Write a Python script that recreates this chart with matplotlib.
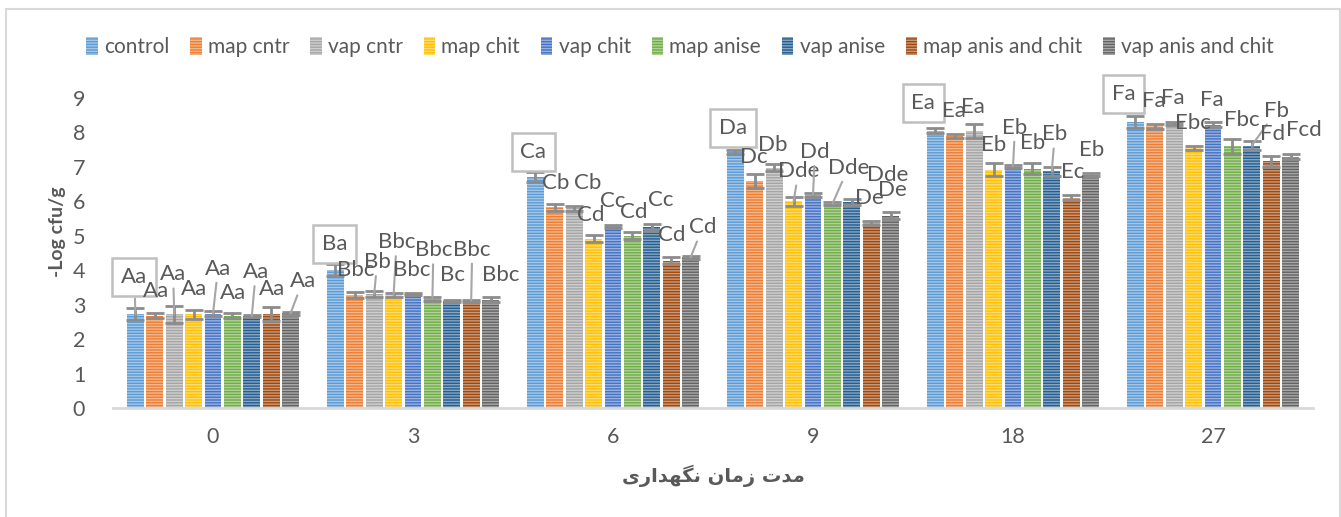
import matplotlib
matplotlib.use("Agg")
import matplotlib.pyplot as plt
import matplotlib.colors as mcolors
from matplotlib.patches import Rectangle
import numpy as np

plt.rcParams['font.family'] = ['Lato', 'DejaVu Sans']
plt.rcParams['hatch.linewidth'] = 1.0

days = ["0", "3", "6", "9", "18", "27"]
series = ["control", "map cntr", "vap cntr", "map chit", "vap chit",
          "map anise", "vap anise", "map anis and chit", "vap anis and chit"]
colors = ["#5B9BD5", "#ED7D31", "#A5A5A5", "#FFC000", "#4472C4",
          "#70AD47", "#255E91", "#9E480E", "#636363"]

# values per series across days (0,3,6,9,18,27)
control      = [2.72, 4.01, 6.71, 7.43, 8.05, 8.30]
map_cntr     = [2.68, 3.28, 5.83, 6.60, 7.89, 8.18]
vap_cntr     = [2.72, 3.31, 5.80, 6.97, 8.05, 8.27]
map_chit     = [2.72, 3.28, 4.91, 6.00, 6.92, 7.55]
vap_chit     = [2.74, 3.30, 5.27, 6.19, 7.01, 8.23]
map_anise    = [2.68, 3.16, 5.00, 5.93, 6.95, 7.60]
vap_anise    = [2.67, 3.12, 5.25, 5.98, 6.87, 7.62]
map_anis_chit = [2.72, 3.12, 4.28, 5.37, 6.11, 7.16]
vap_anis_chit = [2.75, 3.14, 4.37, 5.58, 6.77, 7.29]
values = [control, map_cntr, vap_cntr, map_chit, vap_chit,
          map_anise, vap_anise, map_anis_chit, vap_anis_chit]

err_control      = [0.17, 0.17, 0.15, 0.06, 0.07, 0.17]
err_map_cntr     = [0.07, 0.10, 0.10, 0.20, 0.06, 0.07]
err_vap_cntr     = [0.24, 0.08, 0.07, 0.10, 0.20, 0.04]
err_map_chit     = [0.13, 0.06, 0.10, 0.13, 0.18, 0.07]
err_vap_chit     = [0.07, 0.03, 0.05, 0.05, 0.05, 0.07]
err_map_anise    = [0.07, 0.06, 0.10, 0.05, 0.15, 0.22]
err_vap_anise    = [0.04, 0.03, 0.10, 0.10, 0.12, 0.12]
err_map_anis_chit = [0.20, 0.03, 0.10, 0.05, 0.08, 0.16]
err_vap_anis_chit = [0.05, 0.07, 0.05, 0.10, 0.04, 0.07]
errors = [err_control, err_map_cntr, err_vap_cntr, err_map_chit, err_vap_chit,
          err_map_anise, err_vap_anise, err_map_anis_chit, err_vap_anis_chit]

# significance letters per day (in series order)
labels_d0  = ["Aa", "Aa", "Aa", "Aa", "Aa", "Aa", "Aa", "Aa", "Aa"]
labels_d3  = ["Ba", "Bbc", "Bb", "Bbc", "Bbc", "Bbc", "Bc", "Bbc", "Bbc"]
labels_d6  = ["Ca", "Cb", "Cb", "Cd", "Cc", "Cd", "Cc", "Cd", "Cd"]
labels_d9  = ["Da", "Dc", "Db", "Dde", "Dd", "Dde", "De", "Dde", "De"]
labels_d18 = ["Ea", "Ea", "Ea", "Eb", "Eb", "Eb", "Eb", "Ec", "Eb"]
labels_d27 = ["Fa", "Fa", "Fa", "Ebc", "Fa", "Fbc", "Fb", "Fd", "Fcd"]
labels = [labels_d0, labels_d3, labels_d6, labels_d9, labels_d18, labels_d27]

# label placement (pixel offsets from bar top, leader line flag) -- layout only
label_offsets = [
    [(-1, 37, 1), (1, 25, 0), (-1, 40, 1), (0, 25, 0), (5, 45, 1), (1, 23, 0), (4, 44, 1), (1, 25, 0), (12, 32, 1)],
    [(-1, 26, 0), (1, 25, 0), (3, 32, 1), (3, 53, 1), (-1, 24, 0), (1, 49, 1), (1, 26, 0), (1, 51, 1), (10, 25, 0)],
    [(-2, 25, 0), (1, 24, 0), (13, 25, 0), (-3, 24, 0), (0, 25, 0), (1, 24, 0), (9, 27, 0), (1, 26, 0), (12, 30, 1)],
    [(-2, 24, 0), (-1, 24, 0), (-1, 23, 0), (5, 30, 1), (2, 43, 1), (16, 36, 1), (18, 4, 0), (16, 48, 0), (2, 26, 0)],
    [(-12, 28, 0), (-1, 25, 0), (-1, 24, 0), (0, 25, 0), (2, 39, 1), (0, 26, 0), (3, 37, 1), (1, 26, 0), (1, 25, 0)],
    [(-12, 28, 0), (-1, 25, 0), (-1, 25, 0), (-1, 25, 0), (-1, 25, 0), (9, 26, 0), (25, 35, 1), (1, 27, 0), (13, 27, 0)],
]

ylabel = "-Log cfu/g"
# "مدت زمان نگهداری" written with Arabic presentation forms in visual order
xlabel = ("\uFBFC\uFEAD\uFE8D\uFEAA\uFEEC\uFB95\uFEE7" + " "
          + "\uFEE5\uFE8E\uFEE3\uFEAF" + " " + "\uFE95\uFEAA\uFEE3")

TXT = "#595959"
W, H = 1341, 517
fig = plt.figure(figsize=(W / 100, H / 100), dpi=100)
ax = fig.add_axes([113 / W, (H - 408) / H, 1200 / W, 310 / H])

slot = 0.097
bw = 0.084
x = np.arange(len(days))


def tint(c, f):
    r, g, b = mcolors.to_rgb(c)
    return (r + (1 - r) * f, g + (1 - g) * f, b + (1 - b) * f)


handles = []
for j, (name, col) in enumerate(zip(series, colors)):
    xs = x + (j - 4) * slot
    bars = ax.bar(xs, values[j], width=bw, color=col, edgecolor=tint(col, 0.45),
                  linewidth=0, hatch="------", label=name, zorder=2)
    handles.append(bars)
    ax.errorbar(xs, values[j], yerr=errors[j], fmt="none", ecolor="#8C8C8C",
                elinewidth=2, capsize=6.5, capthick=2, zorder=3)

for g in range(len(days)):
    for j in range(len(series)):
        xv = x[g] + (j - 4) * slot
        yv = values[j][g]
        dx, dy, lead = label_offsets[g][j]
        kw = {}
        if j == 0:
            kw["bbox"] = dict(boxstyle="square,pad=0.4", fc="none", ec="#BFBFBF", lw=1.8)
        if lead:
            kw["arrowprops"] = dict(arrowstyle="-", color="#A6A6A6", lw=1.5,
                                    shrinkA=1, shrinkB=0)
        ax.annotate(labels[g][j], xy=(xv, yv), xytext=(dx, dy),
                    textcoords="offset pixels", ha="center", va="center",
                    fontsize=16, color=TXT, zorder=5, **kw)

ax.set_xlim(-0.5, len(days) - 0.5)
ax.set_ylim(0, 9)
ax.set_yticks(range(10))
ax.set_xticks(x)
ax.set_xticklabels(days)
ax.tick_params(axis="both", length=0, labelsize=15.5, labelcolor=TXT)
ax.tick_params(axis="y", pad=20)
ax.tick_params(axis="x", pad=14)
for s in ["top", "right", "left"]:
    ax.spines[s].set_visible(False)
ax.spines["bottom"].set_color("#D9D9D9")
ax.spines["bottom"].set_linewidth(2)
ax.spines["bottom"].set_zorder(4)

fig.text(57 / W, 1 - 232 / H, ylabel, rotation=90, ha="center", va="center",
         fontsize=14, fontweight="bold", color=TXT)
fig.text(713 / W, 1 - 476 / H, xlabel, ha="center", va="center",
         fontsize=14, fontweight="bold", color=TXT, family="DejaVu Sans")

leg = fig.legend(handles=handles, loc="center", bbox_to_anchor=(680 / W, 1 - 47 / H),
                 ncol=9, frameon=False, fontsize=15, handlelength=0.55,
                 handleheight=1.0, handletextpad=0.3, columnspacing=1.0,
                 labelcolor=TXT)

fig.patches.append(Rectangle((6 / W, -0.01), 1334 / W, 1 - 9 / H + 0.01,
                             transform=fig.transFigure, fill=False,
                             ec="#D9D9D9", lw=1.5))

fig.savefig("out.png", dpi=100)
